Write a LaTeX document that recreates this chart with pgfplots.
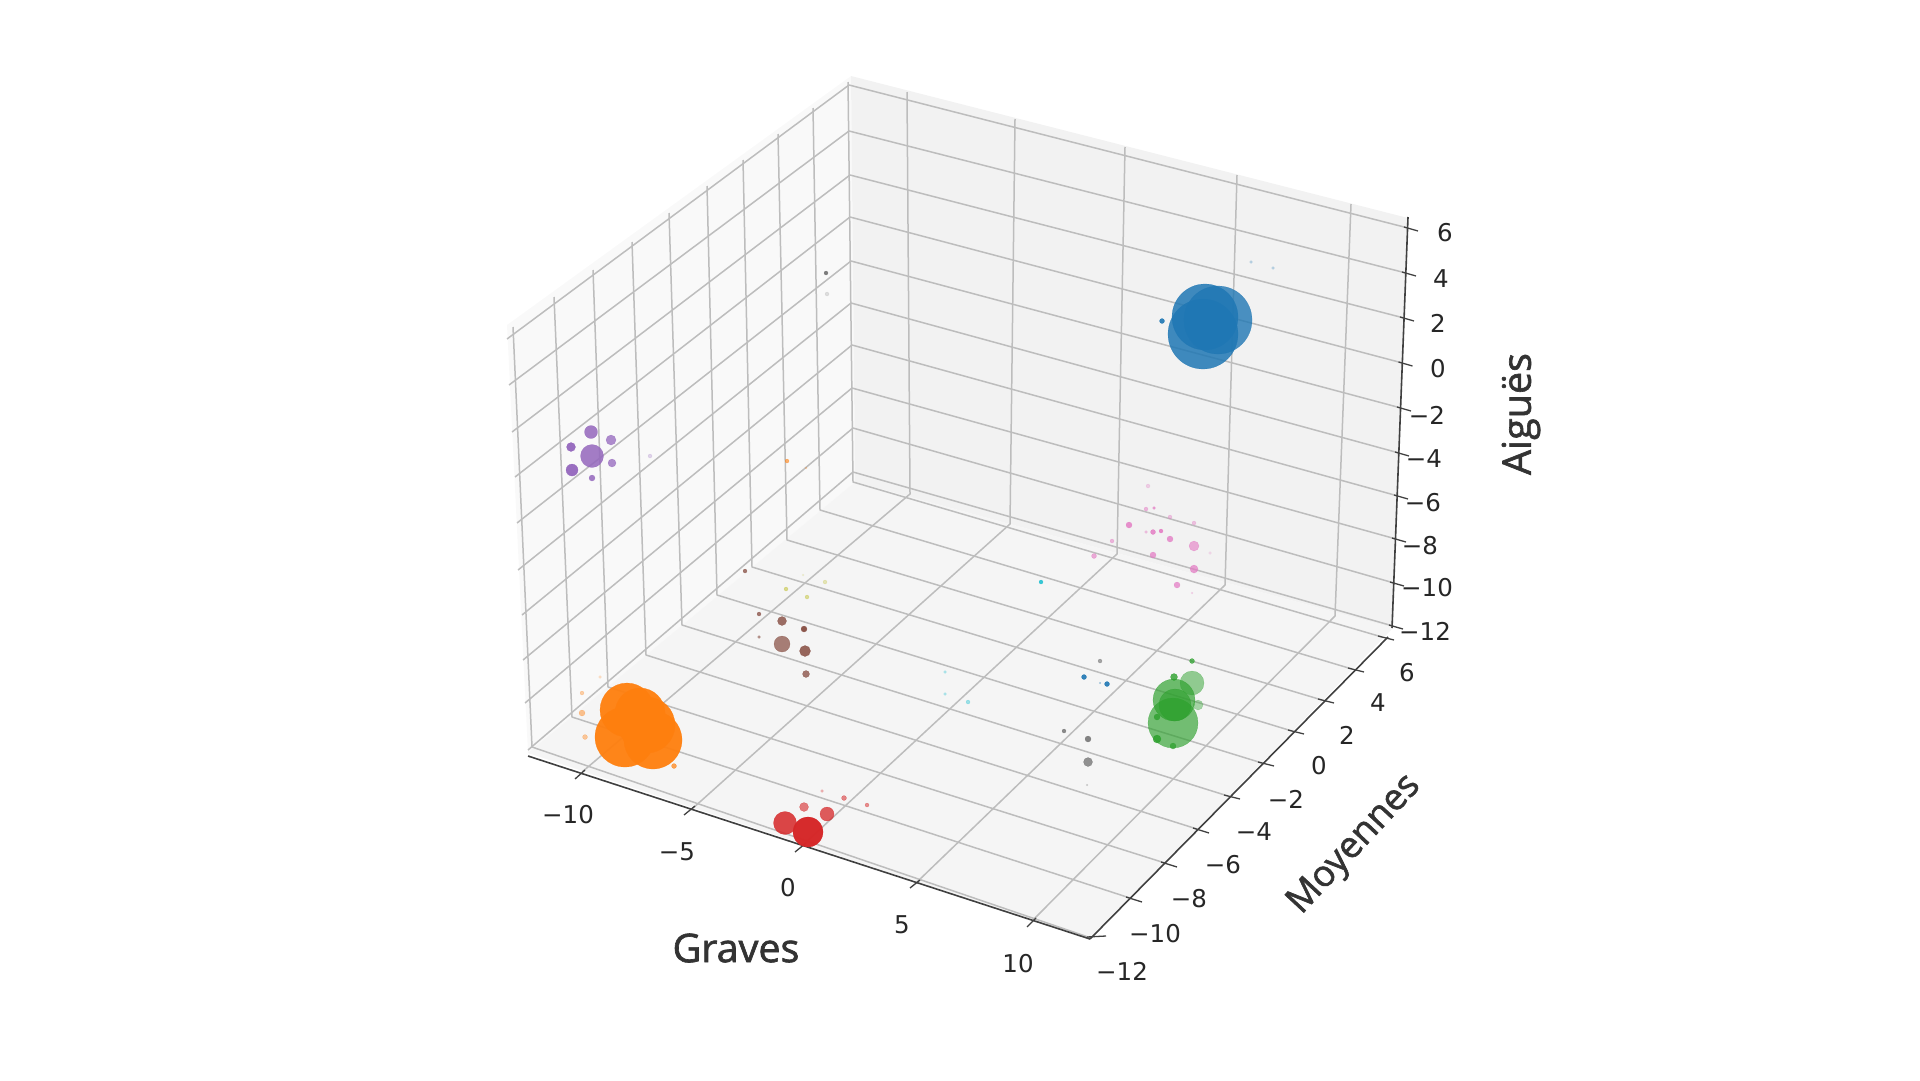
\documentclass[border=0pt]{standalone}
\usepackage{fontspec}
\setmainfont{DejaVu Sans}
\newfontfamily\titlef[FakeBold=1.6]{Open Sans}
\usepackage{pgfplots}
\pgfplotsset{compat=1.18}
\definecolor{paneL}{HTML}{F9F9F9}
\definecolor{paneB}{HTML}{F2F2F2}
\definecolor{paneF}{HTML}{F5F5F5}
\definecolor{gridc}{HTML}{BDBDBD}
\definecolor{axisc}{HTML}{404040}
\definecolor{txtc}{HTML}{262626}
\definecolor{titc}{HTML}{333333}
\definecolor{tblue}{HTML}{1F77B4}
\definecolor{torange}{HTML}{FF7F0E}
\definecolor{tgreen}{HTML}{2CA02C}
\definecolor{tred}{HTML}{D62728}
\definecolor{tpurple}{HTML}{9467BD}
\definecolor{tbrown}{HTML}{8C564B}
\definecolor{tpink}{HTML}{E377C2}
\definecolor{tgray}{HTML}{6F6F6F}
\definecolor{tolive}{HTML}{BCBD22}
\definecolor{tcyan}{HTML}{17BECF}
\pgfplotsset{
  bub/.style={scatter, only marks, mark=*,
    mark options={fill=#1, draw=#1, line width=0.2pt},
    visualization depends on={\thisrow{r} \as \rr},
    visualization depends on={\thisrow{a} \as \aa},
    scatter/@pre marker code/.code={\scope[/tikz/mark size=\rr, /tikz/fill opacity=\aa, /tikz/draw opacity=\aa]},
    scatter/@post marker code/.code={\endscope}},
  gl/.style={draw=gridc, line width=1.5pt, line join=round, mark=none},
  al/.style={draw=axisc, line width=1.6pt, mark=none},
  tk/.style={draw=axisc, line width=1.3pt, mark=none}
}
\newcommand{\lab}[3]{\node[text=txtc, font=\fontsize{24.5}{29}\selectfont] at (axis cs:#1,#2) {#3};}
\begin{document}
\begin{tikzpicture}
\path[use as bounding box] (0,0) rectangle (1920pt,1080pt);
\begin{axis}[
  at={(0,0)}, anchor=south west,
  scale only axis, width=1920pt, height=1080pt,
  xmin=0, xmax=1920, ymin=0, ymax=1080, y dir=reverse,
  hide axis, clip=false]
% panes
\addplot[fill=paneL, draw=none] coordinates {(507,325)(851,76)(855,482)(528,753)} -- cycle;
\addplot[fill=paneB, draw=none] coordinates {(851,76)(1408,218)(1393,628)(855,482)} -- cycle;
\addplot[fill=paneF, draw=none] coordinates {(528,753)(855,482)(1393,628)(1090,939)} -- cycle;
% z grid
\addplot[gl] coordinates {(507,339)(849,85)(1408,228)};
\addplot[gl] coordinates {(509,385)(849,131)(1406,273)};
\addplot[gl] coordinates {(512,432)(850,175)(1404,318)};
\addplot[gl] coordinates {(515,477)(850,217)(1402.5,363)};
\addplot[gl] coordinates {(517,523)(851,261)(1401,408)};
\addplot[gl] coordinates {(518,570)(851,303)(1399,453)};
\addplot[gl] coordinates {(522,615)(852,345)(1398,496)};
\addplot[gl] coordinates {(523,660)(852,388)(1396,539)};
\addplot[gl] coordinates {(525,703)(853,428)(1394,583)};
\addplot[gl] coordinates {(528,750)(853,472)(1393,626)};
% y grid (left wall + floor)
\addplot[gl] coordinates {(513,327)(532,747)(1091,938)};
\addplot[gl] coordinates {(554,297)(572,717)(1130,898)};
\addplot[gl] coordinates {(593,270)(608,687)(1165,863)};
\addplot[gl] coordinates {(632,242)(646,655)(1197,829)};
\addplot[gl] coordinates {(669,213)(682,625)(1228,796)};
\addplot[gl] coordinates {(707,186)(717,595)(1262,763)};
\addplot[gl] coordinates {(743,160)(752,567)(1292,731)};
\addplot[gl] coordinates {(778,134)(787,540)(1322,700)};
\addplot[gl] coordinates {(813,108)(820,510)(1352,669)};
\addplot[gl] coordinates {(848,82)(853,482)(1382,637)};
% x grid (back wall + floor)
\addplot[gl] coordinates {(907,92)(910,494)(582,772)};
\addplot[gl] coordinates {(1015,119)(1010,524)(692,809)};
\addplot[gl] coordinates {(1125,147)(1117,554)(803,845)};
\addplot[gl] coordinates {(1237,175)(1225,585)(917,882)};
\addplot[gl] coordinates {(1351,204)(1335,616)(1033,920)};
% axis lines
\addplot[al] coordinates {(528,756)(1090,939)};
\addplot[al] coordinates {(1090,939)(1388,637)};
\addplot[al] coordinates {(1408,217)(1392,628)};
% x ticks
\addplot[tk] coordinates {(585,770)(575,779)};
\addplot[tk] coordinates {(695,806)(684,815)};
\addplot[tk] coordinates {(806,843)(795,852)};
\addplot[tk] coordinates {(920,880)(910,888)};
\addplot[tk] coordinates {(1036,918)(1027,927)};
% y ticks
\addplot[tk] coordinates {(1087,937)(1106,936)};
\addplot[tk] coordinates {(1126,897)(1142,902)};
\addplot[tk] coordinates {(1161,862)(1177,867)};
\addplot[tk] coordinates {(1193,828)(1209,833)};
\addplot[tk] coordinates {(1224,795)(1240,799)};
\addplot[tk] coordinates {(1258,762)(1274,766)};
\addplot[tk] coordinates {(1288,730)(1304,734)};
\addplot[tk] coordinates {(1318,699)(1334,703)};
\addplot[tk] coordinates {(1348,668)(1364,672)};
\addplot[tk] coordinates {(1378,636)(1394,640)};
% z ticks
\addplot[tk] coordinates {(1404,227)(1418,231)};
\addplot[tk] coordinates {(1402,272)(1416,276)};
\addplot[tk] coordinates {(1400,317)(1414,321)};
\addplot[tk] coordinates {(1398.5,362)(1412.5,366)};
\addplot[tk] coordinates {(1397,407)(1411,411)};
\addplot[tk] coordinates {(1395,452)(1409,456)};
\addplot[tk] coordinates {(1394,495)(1408,499)};
\addplot[tk] coordinates {(1392,538)(1406,542)};
\addplot[tk] coordinates {(1390,582)(1404,586)};
\addplot[tk] coordinates {(1389,625)(1403,629)};
% blue
\addplot[bub=tblue] table {
x y r a
1203 334 35 0.85
1205 317 33 0.85
1218 320 34 0.80
1162 321 2.5 0.9
1251 262 1.5 0.25
1273 268 1.5 0.25
};
% orange
\addplot[bub=torange] table {
x y r a
582 693 2 0.35
582 713 3 0.45
585 737 2.5 0.4
600 677 1.5 0.2
674 766 2.5 0.7
625 737 30 0.95
653 740 29 0.95
647 725 28 0.95
627 710 27 0.95
640 713 25 0.95
};
% red
\addplot[bub=tred] table {
x y r a
822 791 1.5 0.3
844 798 2.5 0.55
867 805 2 0.5
804 807 4.5 0.6
827 814 7 0.75
785 823 11.5 0.85
808 832 15 0.98
};
% purple
\addplot[bub=tpurple] table {
x y r a
592 456 11.5 0.85
591 432 6.5 0.85
611 440 5 0.75
571 447 4.5 0.95
572 470 6 0.95
612 463 4 0.75
592 478 3 0.85
650 456 2 0.25
};
% misc isolated
\addplot[bub=torange] table {
x y r a
787 461 2 0.6
806 468 1 0.25
};
\addplot[bub=tgray] table {
x y r a
826 273 2 0.9
827 294 2 0.2
1100 661 2 0.6
1064 731 2 0.8
1088 739 3 0.85
1088 762 4.5 0.75
1087 785 1 0.25
};
% brown
\addplot[bub=tbrown] table {
x y r a
782 644 8 0.75
805 651 5.5 0.9
782 621 4.5 0.85
804 629 3 1
806 674 3.5 0.8
759 614 2 0.8
759 637 1.5 0.6
745 571 2 0.8
};
% olive
\addplot[bub=tolive] table {
x y r a
786 589 2 0.5
807 597 2 0.45
825 582 2 0.3
803 575 1 0.15
};
% green
\addplot[bub=tgreen] table {
x y r a
1192 683 12 0.5
1198 705 5 0.4
1173 723 25 0.65
1174 700 21 0.68
1175 705 16 0.6
1157 739 4 0.85
1174 677 3.5 0.8
1157 717 3 0.8
1192 661 2.5 0.75
1173 746 3 0.7
};
% blue and cyan small
\addplot[bub=tblue] table {
x y r a
1084 677 2.5 0.9
1107 684 2.5 0.9
1100 683 1 0.3
};
\addplot[bub=tcyan] table {
x y r a
1041 582 2 0.85
945 672 1.5 0.3
945 694 1.5 0.3
968 702 2 0.4
};
% pink
\addplot[bub=tpink] table {
x y r a
1148 486 2 0.3
1154 508 1.5 0.7
1146 509 2 0.5
1170 517 2 0.4
1194 523 2 0.4
1129 525 3 0.8
1146 532 1.5 0.4
1153 532 2.5 0.8
1161 531 2 0.85
1170 539 3 0.75
1194 546 5 0.6
1210 553 1.5 0.2
1153 555 3 0.7
1194 569 4 0.7
1177 585 3 0.7
1192 593 1 0.25
1112 541 2 0.5
1094 556 2.5 0.6
};
% tick labels
\lab{568}{815}{−10}
\lab{677}{852}{−5}
\lab{788}{888}{0}
\lab{902}{925}{5}
\lab{1018}{964}{10}
\lab{1122}{971}{−12}
\lab{1155}{934}{−10}
\lab{1189}{899}{−8}
\lab{1223}{865}{−6}
\lab{1254}{832}{−4}
\lab{1286}{799}{−2}
\lab{1319}{766}{0}
\lab{1347}{735}{2}
\lab{1378}{703}{4}
\lab{1407}{673}{6}
\lab{1445}{233}{6}
\lab{1441}{279}{4}
\lab{1438}{323}{2}
\lab{1438}{369}{0}
\lab{1427}{415}{−2}
\lab{1424}{459}{−4}
\lab{1423}{503}{−6}
\lab{1420}{546}{−8}
\lab{1427}{588}{−10}
\lab{1425}{631}{−12}
% axis titles
\node[text=titc, font=\titlef\fontsize{39.5}{46}\selectfont] at (axis cs:736,948) {Graves};
\node[text=titc, font=\titlef\fontsize{36.5}{44}\selectfont, rotate=47] at (axis cs:1355,845) {Moyennes};
\node[text=titc, font=\titlef\fontsize{39.5}{46}\selectfont, rotate=90] at (axis cs:1521,414) {Aiguës};
\end{axis}
\end{tikzpicture}
\end{document}
